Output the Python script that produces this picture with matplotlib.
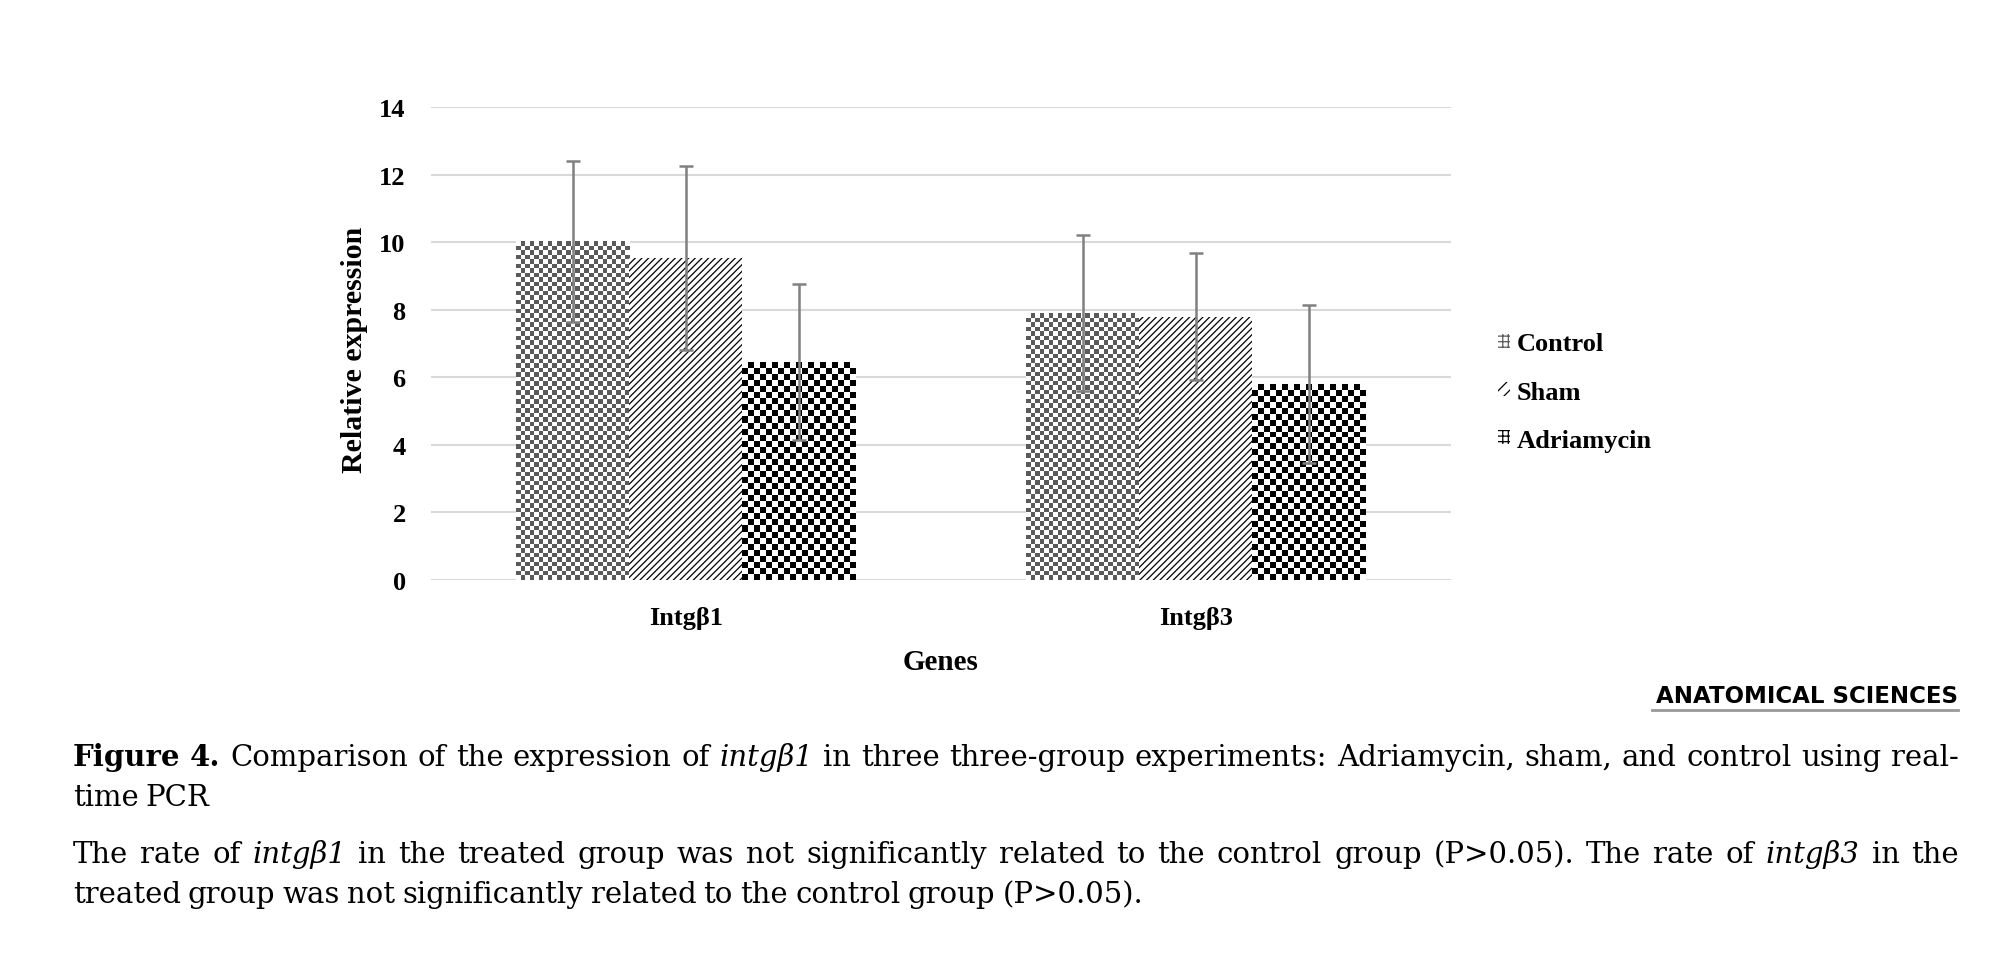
import numpy as np
import matplotlib
matplotlib.use('Agg')
import matplotlib.pyplot as plt
from matplotlib.colors import ListedColormap
from matplotlib.patches import Patch
from matplotlib.lines import Line2D

# values
genes = ['Intgβ1', 'Intgβ3']
groups = ['Control', 'Sham', 'Adriamycin']
control = [10.03, 7.90]
sham = [9.53, 7.80]
adriamycin = [6.46, 5.80]
control_sd = [2.38, 2.32]
sham_sd = [2.72, 1.88]
adriamycin_sd = [2.31, 2.34]
yticks = [0, 2, 4, 6, 8, 10, 12, 14]

caption_1 = [("Figure 4.", "bold"), (" Comparison of the expression of ", "normal"), ("intgβ1", "italic"),
             (" in three three-group experiments: Adriamycin, sham, and control using real-", "normal")]
caption_2 = [("time PCR", "normal")]
caption_3 = [("The rate of ", "normal"), ("intgβ1", "italic"),
             (" in the treated group was not significantly related to the control group (P>0.05). The rate of ", "normal"),
             ("intgβ3", "italic"), (" in the", "normal")]
caption_4 = [("treated group was not significantly related to the control group (P>0.05).", "normal")]

plt.rcParams['font.family'] = ['Liberation Serif', 'DejaVu Serif']
plt.rcParams['hatch.linewidth'] = 0.9

W, H = 2000, 970
fig = plt.figure(figsize=(W / 100, H / 100), dpi=100)
ax = fig.add_axes([430.7 / W, 1 - 580.7 / H, 1020 / W, 472.3 / H])
ax.set_xlim(-0.5, 1.5)
ax.set_ylim(0, 14)

x = np.arange(len(genes))
w = 0.2216


def checker(x0, x1, top, cell, dark):
    p0 = ax.transData.transform((x0, 0))
    p1 = ax.transData.transform((x1, top))
    nx = max(1, int(round((p1[0] - p0[0]) / cell)))
    ny = max(1, int(round((p1[1] - p0[1]) / cell)))
    board = np.indices((ny, nx)).sum(axis=0) % 2
    ax.imshow(board, extent=(x0, x1, 0, top), cmap=ListedColormap(['white', dark]),
              interpolation='nearest', aspect='auto', zorder=2)


for xi, v in zip(x - w, control):
    checker(xi - w / 2, xi + w / 2, v, 4.5, '#5a5a5a')
ax.bar(x, sham, w, facecolor='white', edgecolor='black', hatch='/////', lw=0, zorder=2)
for xi, v in zip(x + w, adriamycin):
    checker(xi - w / 2, xi + w / 2, v, 6, '#000000')

for off, vals, sd in [(-w, control, control_sd), (0, sham, sham_sd), (w, adriamycin, adriamycin_sd)]:
    ax.errorbar(x + off, vals, yerr=sd, fmt='none', ecolor='#808080', elinewidth=1.8,
                capsize=4.7, capthick=1.8, zorder=3)

ax.set_xlim(-0.5, 1.5)
ax.set_ylim(0, 14)
ax.set_yticks(yticks)
ax.set_xticks(x)
ax.set_xticklabels(genes)
ax.grid(axis='y', color='#d9d9d9', lw=1.5, zorder=0)
ax.set_axisbelow(True)
for s in ax.spines.values():
    s.set_visible(False)
ax.tick_params(length=0, labelsize=19)
ax.tick_params(axis='y', pad=18)
ax.tick_params(axis='x', pad=19)
for lab in ax.get_xticklabels() + ax.get_yticklabels():
    lab.set_fontweight('bold')

ax.set_xlabel('Genes', fontsize=21, fontweight='bold')
ax.xaxis.set_label_coords(0.5, -0.144)
ax.set_ylabel('Relative expression', fontsize=21.5, fontweight='bold')
ax.yaxis.set_label_coords(-0.061, 0.488)

handles = [Patch(facecolor='white', edgecolor='#5a5a5a', hatch='+++', lw=0),
           Patch(facecolor='white', edgecolor='black', hatch='///', lw=0),
           Patch(facecolor='white', edgecolor='black', hatch='+++', lw=0)]
fig.legend(handles, groups, loc='center left', bbox_to_anchor=(1498 / W, 1 - 393 / H),
           frameon=False, prop={'family': 'Liberation Serif', 'weight': 'bold', 'size': 19},
           handlelength=0.45, handleheight=0.4, handletextpad=0.25, labelspacing=0.95,
           borderpad=0, borderaxespad=0)

# journal mark
fig.text(1958 / W, 1 - 703 / H, 'ANATOMICAL SCIENCES', ha='right', va='baseline',
         fontfamily='DejaVu Sans', fontweight='bold', fontsize=16.5)
fig.add_artist(Line2D([1652 / W, 1958 / W], [1 - 711 / H] * 2, color='#999999', lw=2))

# caption, justified like the journal page
renderer = fig.canvas.get_renderer()
CAP_FONT = 'DejaVu Serif'
CAP_SIZE = 21
LEFT, RIGHT = 72.7, 1959


def put_line(segments, baseline, justify):
    words = []
    for txt, style in segments:
        for word in txt.split():
            words.append((word, style))
    items = []
    for word, style in words:
        kw = {'fontsize': CAP_SIZE, 'va': 'baseline', 'ha': 'left', 'fontfamily': CAP_FONT}
        if style == 'bold':
            kw['fontweight'] = 'bold'
        elif style == 'italic':
            kw['fontstyle'] = 'italic'
        t = fig.text(0, 1 - baseline / H, word, **kw)
        items.append((t, t.get_window_extent(renderer).width))
    total = sum(wd for _, wd in items)
    if justify and len(items) > 1:
        gap = (RIGHT - LEFT - total) / (len(items) - 1)
    else:
        gap = 0.25 * CAP_SIZE * 100 / 72
    pos = LEFT
    for t, wd in items:
        t.set_x(pos / W)
        pos += wd + gap


put_line(caption_1, 766, True)
put_line(caption_2, 806, False)
put_line(caption_3, 863, True)
put_line(caption_4, 903, False)

fig.savefig('out.png', dpi=100)
